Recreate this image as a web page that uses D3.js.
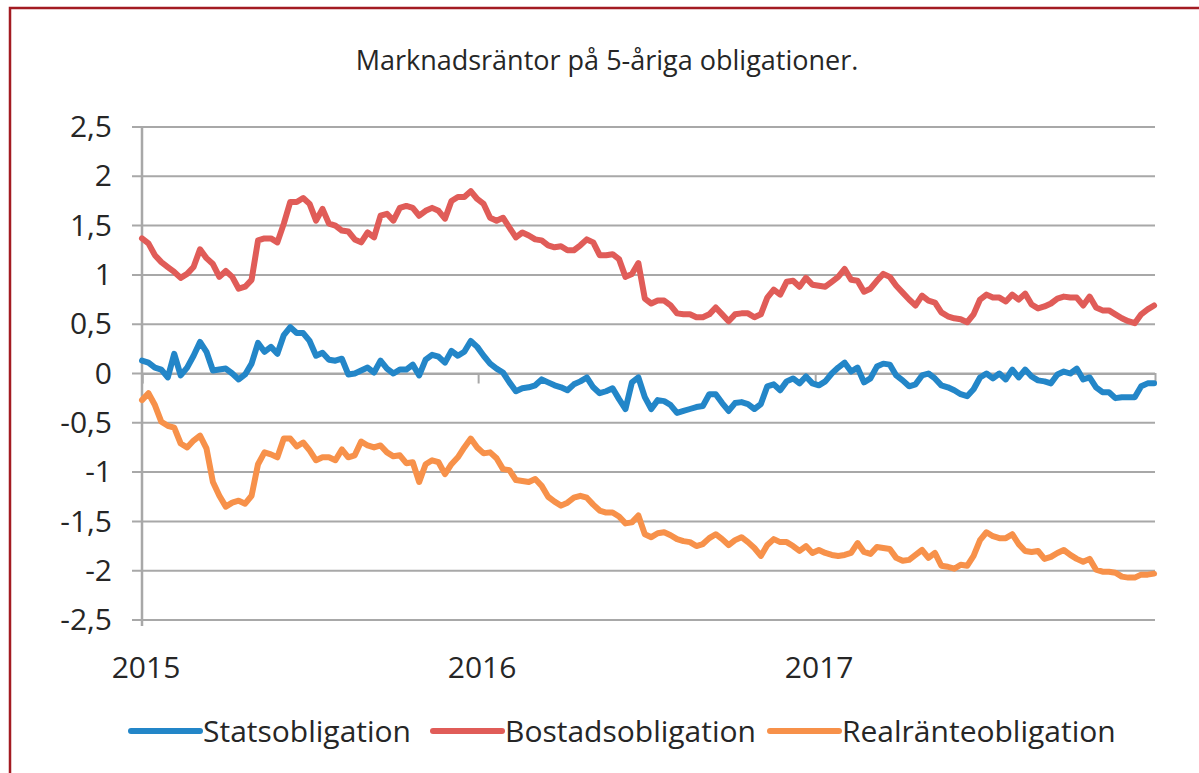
<!DOCTYPE html>
<html>
<head>
<meta charset="utf-8">
<script src="https://cdnjs.cloudflare.com/ajax/libs/d3/7.8.5/d3.min.js"></script>
<style>
  body { margin: 0; background: #fff; }
  text { font-family: 'Open Sans', sans-serif; fill: #262626; }
</style>
</head>
<body>
<svg width="1199" height="773"></svg>
<script>
// weekly observations from 2015-01-01
var startDate = '2015-01-01';
var stepDays = 7;

var statsValues = [
  0.13, 0.11, 0.06, 0.04, -0.04, 0.20, -0.02, 0.06, 0.18, 0.32, 0.22, 0.03, 0.04, 0.05, 0.00, -0.06, -0.01, 0.10, 0.31, 0.22, 0.27, 0.20, 0.39, 0.47, 0.41, 0.41,
  0.33, 0.18, 0.21, 0.14, 0.13, 0.15, -0.01, 0.00, 0.03, 0.06, 0.01, 0.13, 0.05, 0.00, 0.04, 0.04, 0.09, -0.02, 0.14, 0.19, 0.17, 0.11, 0.23, 0.18, 0.22, 0.33, 0.27,
  0.18, 0.10, 0.05, 0.01, -0.09, -0.18, -0.15, -0.14, -0.12, -0.06, -0.09, -0.12, -0.14, -0.17, -0.11, -0.08, -0.04, -0.14, -0.20, -0.18, -0.15, -0.26, -0.36, -0.09, -0.04, -0.24,
  -0.36, -0.27, -0.28, -0.32, -0.40, -0.38, -0.36, -0.34, -0.33, -0.21, -0.21, -0.30, -0.38, -0.30, -0.29, -0.31, -0.36, -0.31, -0.13, -0.11, -0.17, -0.08, -0.05, -0.10, -0.03, -0.10,
  -0.12, -0.08, 0.00, 0.06, 0.11, 0.02, 0.06, -0.09, -0.05, 0.07, 0.10, 0.09, -0.02, -0.07, -0.13, -0.11, -0.02, 0.00, -0.05, -0.12, -0.14, -0.17, -0.21, -0.23, -0.16, -0.04, 0.00,
  -0.05, 0.00, -0.06, 0.04, -0.04, 0.04, -0.03, -0.07, -0.08, -0.10, -0.01, 0.02, 0.00, 0.05, -0.06, -0.04, -0.14, -0.19, -0.19, -0.25, -0.24, -0.24, -0.24, -0.13, -0.10, -0.10
];

var bostadValues = [
  1.37, 1.32, 1.20, 1.13, 1.08, 1.03, 0.97, 1.01, 1.08, 1.26, 1.17, 1.11, 0.98, 1.04, 0.98, 0.86, 0.88, 0.95, 1.35, 1.37, 1.37, 1.33, 1.52, 1.74, 1.74, 1.78,
  1.72, 1.55, 1.67, 1.52, 1.50, 1.45, 1.44, 1.36, 1.33, 1.43, 1.38, 1.60, 1.62, 1.55, 1.68, 1.70, 1.68, 1.60, 1.65, 1.68, 1.65, 1.57, 1.75, 1.79, 1.79, 1.85, 1.77,
  1.72, 1.58, 1.55, 1.58, 1.48, 1.38, 1.43, 1.40, 1.36, 1.35, 1.30, 1.28, 1.29, 1.25, 1.25, 1.30, 1.36, 1.33, 1.20, 1.20, 1.21, 1.16, 0.98, 1.01, 1.12, 0.76,
  0.71, 0.74, 0.74, 0.69, 0.61, 0.60, 0.60, 0.57, 0.57, 0.60, 0.67, 0.60, 0.53, 0.60, 0.61, 0.61, 0.57, 0.60, 0.77, 0.85, 0.80, 0.93, 0.94, 0.88, 0.97, 0.90,
  0.89, 0.88, 0.93, 0.98, 1.06, 0.95, 0.94, 0.83, 0.86, 0.94, 1.01, 0.98, 0.89, 0.82, 0.75, 0.69, 0.79, 0.74, 0.72, 0.62, 0.58, 0.56, 0.55, 0.52, 0.60, 0.75, 0.80,
  0.77, 0.77, 0.73, 0.80, 0.75, 0.81, 0.70, 0.66, 0.68, 0.71, 0.76, 0.78, 0.77, 0.77, 0.69, 0.78, 0.67, 0.64, 0.64, 0.60, 0.56, 0.53, 0.51, 0.60, 0.65, 0.69
];

var realValues = [
  -0.27, -0.20, -0.32, -0.49, -0.53, -0.55, -0.71, -0.75, -0.68, -0.63, -0.76, -1.10, -1.24, -1.35, -1.31, -1.29, -1.32, -1.24, -0.92, -0.80, -0.82, -0.85, -0.66, -0.66, -0.74, -0.70,
  -0.78, -0.88, -0.85, -0.85, -0.88, -0.77, -0.85, -0.83, -0.69, -0.73, -0.75, -0.73, -0.80, -0.84, -0.83, -0.91, -0.90, -1.10, -0.92, -0.88, -0.90, -1.02, -0.92, -0.85, -0.75, -0.66, -0.75,
  -0.81, -0.80, -0.86, -0.97, -0.98, -1.08, -1.09, -1.10, -1.07, -1.14, -1.25, -1.30, -1.34, -1.31, -1.26, -1.24, -1.26, -1.33, -1.39, -1.41, -1.41, -1.45, -1.52, -1.51, -1.44, -1.63,
  -1.66, -1.62, -1.61, -1.64, -1.68, -1.70, -1.71, -1.75, -1.73, -1.67, -1.63, -1.68, -1.74, -1.69, -1.66, -1.71, -1.77, -1.85, -1.74, -1.68, -1.71, -1.71, -1.75, -1.80, -1.75, -1.82,
  -1.79, -1.82, -1.84, -1.85, -1.84, -1.82, -1.72, -1.81, -1.83, -1.76, -1.77, -1.78, -1.87, -1.90, -1.89, -1.84, -1.79, -1.87, -1.82, -1.95, -1.96, -1.98, -1.94, -1.95, -1.85, -1.69, -1.61,
  -1.65, -1.67, -1.67, -1.63, -1.73, -1.80, -1.81, -1.80, -1.88, -1.86, -1.82, -1.79, -1.84, -1.88, -1.91, -1.88, -1.99, -2.01, -2.01, -2.02, -2.06, -2.07, -2.07, -2.04, -2.04, -2.03
];

var seriesNames = ['Statsobligation', 'Bostadsobligation', 'Realränteobligation'];
var seriesColors = ['#2386c8', '#e05c58', '#f7914a'];
var yTicks = [-2.5, -2, -1.5, -1, -0.5, 0, 0.5, 1, 1.5, 2, 2.5];
var yearLabels = ['2015', '2016', '2017'];
var titleText = 'Marknadsräntor på 5-åriga obligationer.';

var svg = d3.select('svg');
var plot = {l: 142, r: 1155, t: 127, b: 620};
var gridColor = '#a8a8a8';

var parseDate = d3.timeParse('%Y-%m-%d');
var start = parseDate(startDate);

var series = [statsValues, bostadValues, realValues].map(function(vals, s) {
  return {
    name: seriesNames[s],
    color: seriesColors[s],
    values: vals.map(function(v, i) {
      return {date: d3.timeDay.offset(start, i * stepDays), value: v};
    })
  };
});

var xScale = d3.scaleTime()
  .domain([start, parseDate('2018-01-05')])
  .range([plot.l, plot.r]);

var yScale = d3.scaleLinear()
  .domain([-2.5, 2.5])
  .range([plot.b, plot.t]);

var sv = d3.formatLocale({decimal: ',', thousands: ' ', grouping: [3], currency: ['', ' kr'], minus: '-'});
var fmt = sv.format('~g');

// border
svg.append('rect')
  .attr('x', 10)
  .attr('y', 8)
  .attr('width', 1400)
  .attr('height', 1000)
  .attr('fill', 'none')
  .attr('stroke', '#a31b22')
  .attr('stroke-width', 2.5);

svg.append('text')
  .attr('x', 607)
  .attr('y', 70)
  .attr('text-anchor', 'middle')
  .style('font-size', '27px')
  .text(titleText);

// gridlines
svg.append('g')
  .selectAll('line')
  .data(yTicks)
  .enter()
  .append('line')
  .attr('x1', plot.l - 10)
  .attr('x2', plot.r)
  .attr('y1', function(d) { return yScale(d); })
  .attr('y2', function(d) { return yScale(d); })
  .attr('stroke', gridColor)
  .attr('stroke-width', 2);

// y axis
var yAxis = d3.axisLeft(yScale)
  .tickValues(yTicks)
  .tickSize(0)
  .tickPadding(30)
  .tickFormat(function(d) { return fmt(d); });

var yG = svg.append('g')
  .attr('transform', 'translate(' + plot.l + ',0)')
  .call(yAxis);
yG.select('.domain')
  .attr('stroke', gridColor)
  .attr('stroke-width', 2.5)
  .attr('d', 'M0,' + plot.t + 'V' + (plot.b + 6));
yG.selectAll('text')
  .style('font-size', '30px')
  .style('font-family', "'Open Sans', sans-serif")
  .attr('fill', '#262626');

// x axis sits on zero
var yearDates = yearLabels.map(function(y) { return parseDate(y + '-01-01'); });
var xAxis = d3.axisBottom(xScale)
  .tickValues(yearDates)
  .tickSize(10)
  .tickFormat('');

var xG = svg.append('g')
  .attr('transform', 'translate(0,' + yScale(0) + ')')
  .call(xAxis);
xG.select('.domain').attr('stroke', gridColor).attr('stroke-width', 2);
xG.selectAll('.tick line').attr('stroke', gridColor).attr('stroke-width', 2);

svg.append('g')
  .selectAll('text')
  .data(yearLabels)
  .enter()
  .append('text')
  .attr('x', function(d, i) { return xScale(yearDates[i]) + 4; })
  .attr('y', 678)
  .attr('text-anchor', 'middle')
  .style('font-size', '30px')
  .text(function(d) { return d; });

// lines
var line = d3.line()
  .x(function(d) { return xScale(d.date); })
  .y(function(d) { return yScale(d.value); });

svg.append('g')
  .selectAll('path')
  .data(series)
  .enter()
  .append('path')
  .attr('d', function(d) { return line(d.values); })
  .attr('fill', 'none')
  .attr('stroke', function(d) { return d.color; })
  .attr('stroke-width', 6)
  .attr('stroke-linejoin', 'round')
  .attr('stroke-linecap', 'round');

// legend
var legendX = [131, 433, 770];
var legend = svg.append('g')
  .selectAll('g')
  .data(series)
  .enter()
  .append('g')
  .attr('transform', function(d, i) { return 'translate(' + legendX[i] + ',731)'; });

legend.append('line')
  .attr('x1', 0)
  .attr('x2', 69)
  .attr('stroke', function(d) { return d.color; })
  .attr('stroke-width', 6)
  .attr('stroke-linecap', 'round');

legend.append('text')
  .attr('x', 72)
  .attr('y', 11)
  .style('font-size', '30px')
  .text(function(d) { return d.name; });
</script>
</body>
</html>
